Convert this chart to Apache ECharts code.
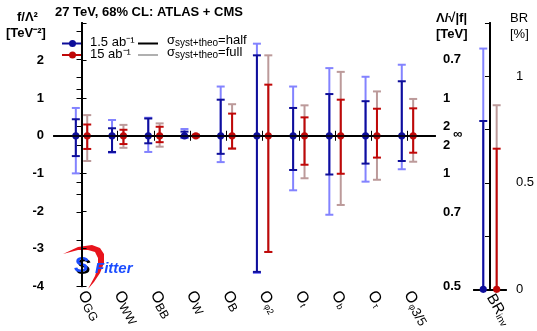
<!DOCTYPE html>
<html>
<head>
<meta charset="utf-8">
<title>27 TeV, 68% CL: ATLAS + CMS</title>
<script src="https://cdn.jsdelivr.net/npm/echarts@6/dist/echarts.min.js"></script>
<style>
  html, body { margin: 0; padding: 0; background: #fff; }
  #chart { width: 537px; height: 331px; }
</style>
</head>
<body>
<div id="chart"></div>
<script>
// operators on the x axis (subscripts of O)
var categories = ['GG', 'WW', 'BB', 'W', 'B', 'φ2', 't', 'b', 'τ', 'φ3/5'];

// f/Lambda^2 [TeV^-2], 1.5 ab^-1
var blueHalfHi = [0.44, 0.20, 0.46, 0.11, 0.96, 2.14, 0.74, 1.11, 0.92, 1.45];
var blueHalfLo = [-0.54, -0.43, -0.20, -0.04, -0.48, -3.62, -0.91, -1.03, -0.74, -0.67];
var blueFullHi = [0.74, 0.42, 0.48, 0.18, 1.31, 2.45, 1.31, 1.80, 1.57, 1.89];
var blueFullLo = [-1.00, -0.45, -0.43, -0.06, -0.70, -3.65, -1.45, -2.10, -1.22, -0.89];

// f/Lambda^2 [TeV^-2], 15 ab^-1
var redHalfHi = [0.30, 0.16, 0.24, 0.02, 0.59, 1.36, 0.49, 0.96, 0.72, 0.73];
var redHalfLo = [-0.35, -0.22, -0.17, -0.02, -0.34, -3.09, -0.77, -1.01, -0.58, -0.45];
var redFullHi = [0.55, 0.29, 0.33, 0.04, 0.84, 2.14, 0.81, 1.70, 1.18, 0.98];
var redFullLo = [-0.67, -0.32, -0.29, -0.04, -0.34, -3.09, -1.13, -1.84, -1.17, -0.69];

// BR_inv [%] : half / full upper limits
var brBlue = [0.79, 1.13];
var brRed = [0.66, 0.864];

// left axis ticks, right axis (Lambda/sqrt|f|) ticks
var fTicks = [-4, -3, -2, -1, 0, 1, 2];
var lambdaTicksUp = [0.6, 0.7, 0.8, 0.9, 1, 2];
var lambdaTicksDown = [2, 1, 0.9, 0.8, 0.7, 0.6, 0.5];
var lambdaLabelsUp = [0.7, 1, 2];
var lambdaLabelsDown = [2, 1, 0.7, 0.5];
var brTicks = [0, 0.5, 1];

var DARK_BLUE = '#0e0e9a', LIGHT_BLUE = '#8383ff';
var DARK_RED = '#c00808', LIGHT_RED = '#bc9a9a';

function toF(l, sign) { return sign / (l * l); }
var lambdaTickVals = lambdaTicksUp.map(function (l) { return toF(l, 1); })
    .concat(lambdaTicksDown.map(function (l) { return toF(l, -1); }));
var lambdaLabelVals = lambdaLabelsUp.map(function (l) { return toF(l, 1); })
    .concat([0])
    .concat(lambdaLabelsDown.map(function (l) { return toF(l, -1); }));
var catIdx = categories.map(function (c, i) { return i; });

function rows(fl, fh, hl, hh) {
    return categories.map(function (c, i) { return [i, fl[i], fh[i], hl[i], hh[i]]; });
}

function errItem(dx, dark, light, capTop) {
    return function (params, api) {
        var x = api.value(0);
        var p0 = api.coord([x, 0]);
        var cx = p0[0] + dx;
        var yFl = api.coord([x, api.value(1)])[1];
        var yFh = api.coord([x, api.value(2)])[1];
        var yHl = api.coord([x, api.value(3)])[1];
        var yHh = api.coord([x, api.value(4)])[1];
        var cw = 4;
        function seg(x1, y1, x2, y2, c) {
            return { type: 'line', shape: { x1: x1, y1: y1, x2: x2, y2: y2 }, style: { stroke: c, lineWidth: 2 } };
        }
        var ch = [
            seg(cx, yFl, cx, yFh, light),
            seg(cx - cw, yFh, cx + cw, yFh, light),
            seg(cx, yHl, cx, yHh, dark),
            seg(cx - cw, yHh, cx + cw, yHh, dark)
        ];
        if (!capTop) {
            ch.splice(2, 0, seg(cx - cw, yFl, cx + cw, yFl, light));
            ch.push(seg(cx - cw, yHl, cx + cw, yHl, dark));
        }
        ch.push({ type: 'circle', shape: { cx: cx, cy: p0[1], r: 3.6 }, style: { fill: dark } });
        return { type: 'group', children: ch };
    };
}

var rich = {
    o: { fontSize: 16, fontFamily: 'Liberation Sans' },
    s: { fontSize: 12, fontFamily: 'Liberation Sans', padding: [6, 0, 0, 0] },
    t: { fontSize: 9, fontFamily: 'Liberation Sans', padding: [7, 0, 0, 0] },
    m: { fontSize: 13, fontFamily: 'Liberation Sans', padding: [6, 0, 0, 0] }
};

function catLabel(v) {
    var c = categories[Math.round(v)];
    if (c === undefined) return '';
    if (c === 'φ3/5') return '{o|O}{t|φ}{m|3/5}';
    if (/^[A-Z]+$/.test(c)) return '{o|O}{s|' + c + '}';
    return '{o|O}{t|' + c + '}';
}

var chart = echarts.init(document.getElementById('chart'));

var axisLine = { lineStyle: { color: '#000', width: 2 } };
var tick = { inside: true, length: 5, lineStyle: { color: '#000' } };

function legendSigma(word) {
    return {
        text: '{a|σ}{b|syst+theo}{a|=' + word + '}', fill: '#000',
        rich: { a: { fontSize: 13, fontFamily: 'Liberation Sans' }, b: { fontSize: 10, fontFamily: 'Liberation Sans', padding: [5, 0, 0, 0] } }
    };
}

var option = {
    animation: false,
    grid: [
        { left: 54, right: 102, top: 23, bottom: 41, show: false },
        { left: 474, right: 31, top: 23, bottom: 41, show: false }
    ],
    xAxis: [
        {
            gridIndex: 0, type: 'value', min: -0.76, max: 9.76, position: 'bottom',
            axisLine: axisLine, splitLine: { show: false },
            axisTick: Object.assign({ customValues: catIdx }, tick),
            axisLabel: { customValues: catIdx, rotate: -60, margin: 6, color: '#000', formatter: catLabel, rich: rich }
        },
        {
            gridIndex: 0, type: 'value', min: -0.76, max: 9.76, position: 'top',
            axisLine: axisLine, splitLine: { show: false },
            axisTick: Object.assign({ customValues: catIdx }, tick),
            axisLabel: { show: false }
        },
        {
            gridIndex: 1, type: 'value', min: -1, max: 1, position: 'bottom',
            axisLine: axisLine, splitLine: { show: false }, axisTick: { show: false },
            axisLabel: {
                customValues: [0], rotate: -60, margin: 6, color: '#000',
                formatter: function () { return '{o|BR}{s|inv}'; },
                rich: { o: { fontSize: 15, fontFamily: 'Liberation Sans' }, s: { fontSize: 10, fontFamily: 'Liberation Sans', padding: [6, 0, 0, 0] } }
            }
        },
        {
            gridIndex: 1, type: 'value', min: -1, max: 1, position: 'top',
            axisLine: axisLine, splitLine: { show: false }, axisTick: { show: false }, axisLabel: { show: false }
        }
    ],
    yAxis: [
        {
            gridIndex: 0, type: 'value', min: -4, max: 3, position: 'left',
            axisLine: axisLine, splitLine: { show: false },
            axisTick: Object.assign({ customValues: fTicks.concat([3]) }, tick),
            axisLabel: { customValues: fTicks, margin: 10, color: '#000', fontSize: 13, fontWeight: 'bold', fontFamily: 'Liberation Sans' }
        },
        {
            gridIndex: 0, type: 'value', min: -4, max: 3, position: 'right',
            axisLine: axisLine, splitLine: { show: false },
            axisTick: Object.assign({ customValues: lambdaTickVals }, tick),
            axisLabel: {
                customValues: lambdaLabelVals, margin: 8, color: '#000', fontSize: 13, fontWeight: 'bold', fontFamily: 'Liberation Sans',
                formatter: function (v) {
                    if (Math.abs(v) < 1e-9) return '{inf|∞}';
                    return String(Math.round(10 / Math.sqrt(Math.abs(v))) / 10);
                },
                rich: { inf: { fontSize: 13, fontWeight: 'bold', fontFamily: 'Liberation Sans', padding: [0, 0, 2, 10] } }
            }
        },
        {
            gridIndex: 1, type: 'value', min: 0, max: 1.25, position: 'left',
            axisLine: axisLine, splitLine: { show: false }, axisTick: { show: false }, axisLabel: { show: false }
        },
        {
            gridIndex: 1, type: 'value', min: 0, max: 1.25, interval: 0.25, position: 'right',
            axisLine: axisLine, splitLine: { show: false },
            axisTick: tick,
            axisLabel: { customValues: brTicks, margin: 10, color: '#000', fontSize: 13, fontFamily: 'Liberation Sans' }
        }
    ],
    series: [
        {
            type: 'line', xAxisIndex: 0, yAxisIndex: 0, data: [], z: 1,
            markLine: {
                silent: true, symbol: 'none', label: { show: false },
                lineStyle: { color: '#000', width: 1.5, type: 'solid' },
                data: [{ yAxis: 0 }]
            }
        },
        {
            type: 'custom', xAxisIndex: 0, yAxisIndex: 0, z: 3,
            renderItem: errItem(-5.7, DARK_BLUE, LIGHT_BLUE, false),
            data: rows(blueFullLo, blueFullHi, blueHalfLo, blueHalfHi)
        },
        {
            type: 'custom', xAxisIndex: 0, yAxisIndex: 0, z: 3,
            renderItem: errItem(5.7, DARK_RED, LIGHT_RED, false),
            data: rows(redFullLo, redFullHi, redHalfLo, redHalfHi)
        },
        {
            type: 'custom', xAxisIndex: 2, yAxisIndex: 2, z: 3,
            renderItem: errItem(-6.7, DARK_BLUE, LIGHT_BLUE, true),
            data: [[0, 0, brBlue[1], 0, brBlue[0]]]
        },
        {
            type: 'custom', xAxisIndex: 2, yAxisIndex: 2, z: 3,
            renderItem: errItem(6.7, DARK_RED, LIGHT_RED, true),
            data: [[0, 0, brRed[1], 0, brRed[0]]]
        }
    ],
    graphic: [
        // title and axis titles
        { type: 'text', left: 55, top: 6, style: { text: '27 TeV, 68% CL: ATLAS + CMS', font: 'bold 13px "Liberation Sans"', fill: '#000' } },
        { type: 'text', left: 17, top: 11, style: { text: 'f/Λ²', font: 'bold 13px "Liberation Sans"', fill: '#000' } },
        { type: 'text', left: 6, top: 27, style: { text: '[TeV⁻²]', font: 'bold 13px "Liberation Sans"', fill: '#000' } },
        { type: 'text', left: 436, top: 12, style: { text: 'Λ/√|f|', font: 'bold 13px "Liberation Sans"', fill: '#000' } },
        { type: 'text', left: 436, top: 28, style: { text: '[TeV]', font: 'bold 13px "Liberation Sans"', fill: '#000' } },
        { type: 'text', left: 510, top: 12, style: { text: 'BR', font: '13px "Liberation Sans"', fill: '#000' } },
        { type: 'text', left: 510, top: 28, style: { text: '[%]', font: '13px "Liberation Sans"', fill: '#000' } },
        // legend
        { type: 'line', shape: { x1: 62, y1: 43.5, x2: 83, y2: 43.5 }, style: { stroke: DARK_BLUE, lineWidth: 2 } },
        { type: 'circle', shape: { cx: 72.5, cy: 43.5, r: 3.5 }, style: { fill: DARK_BLUE } },
        { type: 'text', left: 90, top: 36, style: { text: '1.5 ab⁻¹', font: '13px "Liberation Sans"', fill: '#000' } },
        { type: 'line', shape: { x1: 62, y1: 55, x2: 83, y2: 55 }, style: { stroke: DARK_RED, lineWidth: 2 } },
        { type: 'circle', shape: { cx: 72.5, cy: 55, r: 3.5 }, style: { fill: DARK_RED } },
        { type: 'text', left: 90, top: 48, style: { text: '15 ab⁻¹', font: '13px "Liberation Sans"', fill: '#000' } },
        { type: 'line', shape: { x1: 138, y1: 43.5, x2: 158, y2: 43.5 }, style: { stroke: '#000', lineWidth: 2 } },
        { type: 'line', shape: { x1: 138, y1: 55, x2: 158, y2: 55 }, style: { stroke: '#b0b0b0', lineWidth: 2 } },
        { type: 'text', left: 167, top: 34, style: legendSigma('half') },
        { type: 'text', left: 167, top: 46, style: legendSigma('full') },
        // SFitter logo
        {
            type: 'polygon',
            shape: { points: [[63, 254], [78, 247], [92, 245], [100, 248], [104, 254], [104, 263], [100, 273], [94, 282], [88, 289],
                              [95, 276], [98, 266], [98, 258], [95, 252], [88, 250], [78, 250]] },
            style: { fill: '#e8141c' }
        },
        { type: 'text', left: 76, top: 257, style: { text: 'S', font: 'italic bold 22px "Liberation Sans"', fill: '#000' } },
        { type: 'text', left: 74, top: 255, style: { text: 'S', font: 'italic bold 22px "Liberation Sans"', fill: '#1a4cff' } },
        { type: 'text', left: 95, top: 261, style: { text: 'Fitter', font: 'italic bold 15px "Liberation Sans"', fill: '#1a4cff' } }
    ]
};

chart.setOption(option);
</script>
</body>
</html>
